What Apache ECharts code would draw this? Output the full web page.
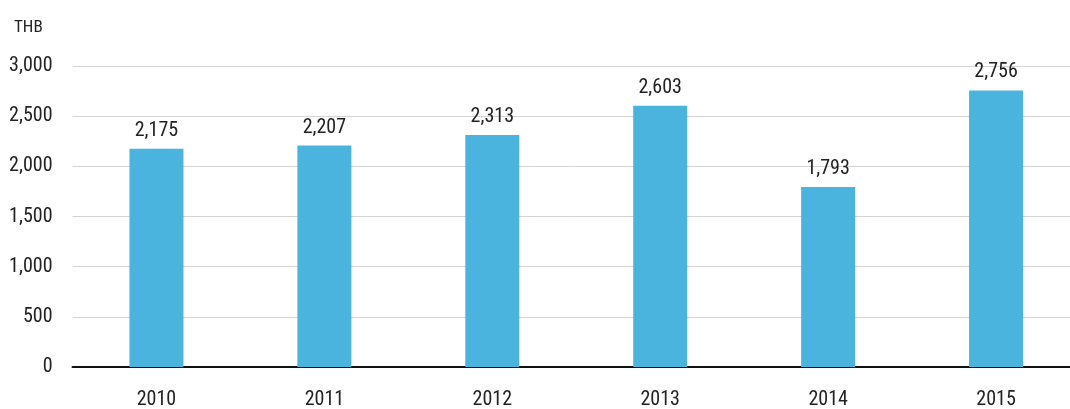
<!DOCTYPE html>
<html>
<head>
<meta charset="utf-8">
<script src="https://cdn.jsdelivr.net/npm/echarts@6/dist/echarts.min.js"></script>
<style>
  html, body { margin: 0; padding: 0; background: #fff; }
  #chart { width: 1070px; height: 409px; }
</style>
</head>
<body>
<div id="chart"></div>
<script>
// Annual values in THB
const years = ['2010', '2011', '2012', '2013', '2014', '2015'];
const values = [2175, 2207, 2313, 2603, 1793, 2756];
const yTicks = [0, 500, 1000, 1500, 2000, 2500, 3000];

const FONT = '"Roboto Condensed", "Liberation Sans Narrow", sans-serif';
const fmt = v => v.toLocaleString('en-US');

const chart = echarts.init(document.getElementById('chart'), null, { renderer: 'canvas' });
chart.setOption({
  animation: false,
  backgroundColor: '#ffffff',
  // plot area runs slightly past the right edge of the page
  grid: { left: 72.5, right: -10, top: 66, bottom: 42, containLabel: false, outerBoundsMode: 'none' },
  graphic: [{
    type: 'text', left: 14, top: 19,
    style: { text: 'THB', font: '17px ' + FONT, fill: '#222' }
  }],
  xAxis: {
    type: 'category',
    data: years,
    axisLine: { lineStyle: { color: '#111', width: 2 } },
    axisTick: { show: false },
    axisLabel: { fontFamily: FONT, fontSize: 20, color: '#222', margin: 23 }
  },
  yAxis: {
    type: 'value',
    min: yTicks[0],
    max: yTicks[yTicks.length - 1],
    interval: 500,
    axisLine: { show: false },
    axisTick: { show: false },
    axisLabel: { fontFamily: FONT, fontSize: 20, color: '#222', margin: 20, formatter: fmt },
    splitLine: { lineStyle: { color: '#d4d4d4', width: 1 } }
  },
  series: [{
    type: 'bar',
    data: values,
    barWidth: 54,
    itemStyle: { color: '#4ab4df' },
    label: {
      show: true, position: 'top', distance: 8,
      fontFamily: FONT, fontSize: 20, color: '#222',
      formatter: p => fmt(p.value)
    }
  }]
});
</script>
</body>
</html>
